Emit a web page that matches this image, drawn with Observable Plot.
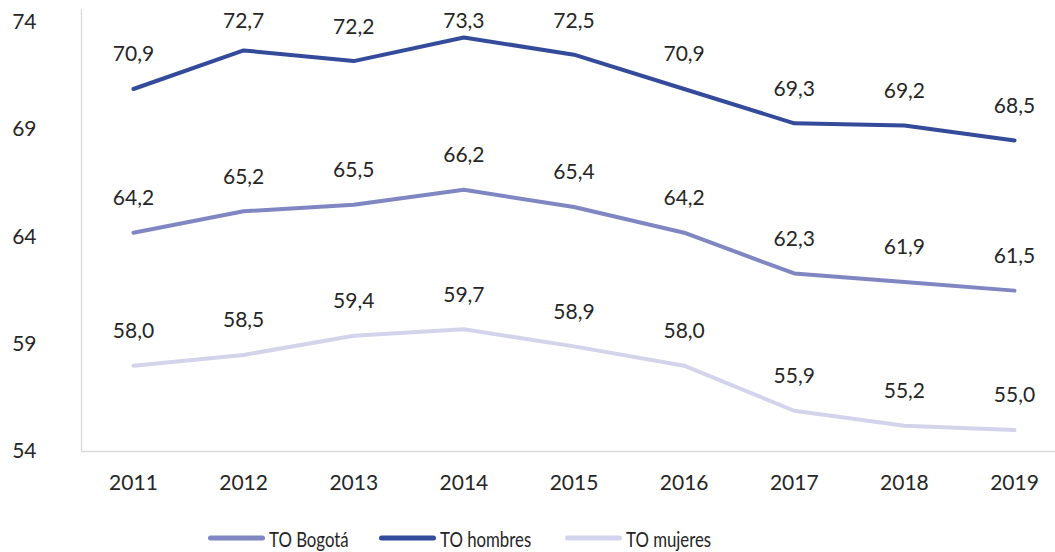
<!DOCTYPE html>
<html>
<head>
<meta charset="utf-8">
<script src="https://cdn.jsdelivr.net/npm/d3@7"></script>
<script src="https://cdn.jsdelivr.net/npm/@observablehq/plot@0.6"></script>
<style>
  html, body { margin: 0; padding: 0; background: #fff; }
  #chart { width: 1055px; font-family: Lato, "Open Sans", sans-serif; }
  svg { display: block; }
  .legend { position: relative; height: 47px; font-family: Lato, sans-serif; font-size: 21px; color: #262626; }
  .item { position: absolute; top: 33px; display: flex; align-items: center; transform: translateY(-50%); }
  .sw { width: 57px; height: 5px; border-radius: 3px; margin-right: 4px; }
  .lt { display: inline-block; transform: scaleX(0.8); transform-origin: left center; white-space: nowrap; }
</style>
</head>
<body>
<div id="chart"></div>
<script>
const years = [2011, 2012, 2013, 2014, 2015, 2016, 2017, 2018, 2019];
const bogota = [64.2, 65.2, 65.5, 66.2, 65.4, 64.2, 62.3, 61.9, 61.5];
const hombres = [70.9, 72.7, 72.2, 73.3, 72.5, 70.9, 69.3, 69.2, 68.5];
const mujeres = [58.0, 58.5, 59.4, 59.7, 58.9, 58.0, 55.9, 55.2, 55.0];
const yTicks = [54, 59, 64, 69, 74];
const seriesNames = ["TO Bogotá", "TO hombres", "TO mujeres"];
const seriesColors = ["#7F86C2", "#344A9A", "#D4D3EC"];

const seriesValues = [bogota, hombres, mujeres];
const rows = [];
seriesNames.forEach((name, i) => {
  years.forEach((yr, j) => rows.push({series: name, year: yr, value: seriesValues[i][j]}));
});
const fmt = v => d3.format(".1f")(v).replace(".", ",");
const drawOrder = ["TO mujeres", "TO Bogotá", "TO hombres"];
// label sits ~1.6 units above its point, kept inside the top of the plot area
const labelY = d => Math.min(d.value + 1.6, 74.05);

const plot = Plot.plot({
  width: 1055,
  height: 505,
  marginLeft: 81,
  marginRight: 0,
  marginTop: 22,
  marginBottom: 54,
  style: {fontFamily: "Lato, 'Open Sans', sans-serif", fontSize: "21px", color: "#262626", background: "#fff"},
  x: {type: "linear", domain: [2010.528, 2019.372]},
  y: {domain: [54, 74]},
  color: {domain: seriesNames, range: seriesColors},
  marks: [
    Plot.ruleY([54], {stroke: "#D9D9D9", strokeWidth: 1.3}),
    Plot.ruleX([2010.528], {y1: 54, y2: 74.6, stroke: "#D9D9D9", strokeWidth: 1.3}),
    Plot.axisY({ticks: yTicks, tickSize: 0, tickPadding: 45, label: null, fill: "#262626"}),
    Plot.axisX({ticks: years, tickFormat: d => String(d), tickSize: 0, tickPadding: 24, label: null, fill: "#262626"}),
    ...drawOrder.map(name => Plot.line(rows.filter(r => r.series === name), {
      x: "year", y: "value", stroke: "series", strokeWidth: 4, strokeLinecap: "round", strokeLinejoin: "round"
    })),
    Plot.text(rows, {x: "year", y: labelY, text: d => fmt(d.value), fill: "#262626", fontSize: 21})
  ]
});
document.getElementById("chart").appendChild(plot);

const legend = document.createElement("div");
legend.className = "legend";
const lefts = [208, 379, 565];
seriesNames.forEach((name, i) => {
  const it = document.createElement("div");
  it.className = "item";
  it.style.left = lefts[i] + "px";
  const sw = document.createElement("div");
  sw.className = "sw";
  sw.style.background = seriesColors[i];
  const tx = document.createElement("span");
  tx.className = "lt";
  tx.textContent = name;
  it.appendChild(sw); it.appendChild(tx);
  legend.appendChild(it);
});
document.getElementById("chart").appendChild(legend);
</script>
</body>
</html>
